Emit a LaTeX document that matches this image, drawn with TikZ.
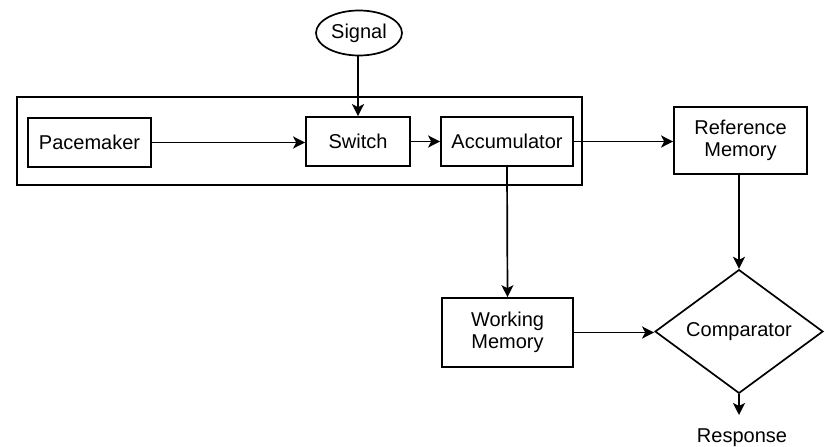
\documentclass[tikz,border=0pt]{standalone}
\usepackage{fontspec}
\setmainfont{Liberation Sans}
\usetikzlibrary{shapes.geometric,arrows.meta}
\begin{document}
\begin{tikzpicture}[x=1pt,y=-1pt,
  every node/.style={font=\fontsize{20}{22}\selectfont, text=black},
  blk/.style={draw, line width=1.7pt, align=center, inner sep=0pt},
  conn/.style={line width=1.7pt, -{Stealth[length=12pt,width=12pt,inset=3pt]}}]
\useasboundingbox (0,0) rectangle (825,447);
\node[blk, minimum width=565, minimum height=88] (outer) at (299.5,141) {};
\node[blk, ellipse, minimum width=86, minimum height=45] (sig) at (359,33) {Signal};
\node[blk, minimum width=123, minimum height=49] (pace) at (89.5,142.5) {Pacemaker};
\node[blk, minimum width=104, minimum height=49] (sw) at (358,141.5) {Switch};
\node[blk, minimum width=132, minimum height=49] (acc) at (507,141.5) {Accumulator};
\node[blk, minimum width=133, minimum height=67] (ref) at (740.5,140.5) {Reference\\Memory};
\node[blk, minimum width=131, minimum height=69] (wm) at (507.5,332.5) {Working\\Memory};
\node[blk, diamond, minimum width=168, minimum height=105] (comp) at (739,331.5) {Comparator};
\node (resp) at (742,438) {Response};
\coordinate (respend) at (739,415);
\draw[conn] (sig.south -| sw.north) -- (sw.north);
\draw[conn] (pace.east) -- (pace.east -| sw.west);
\draw[conn] (sw.east) -- (sw.east -| acc.west);
\draw[conn] (acc.east) -- (acc.east -| ref.west);
\draw[conn] (acc.south) -- (wm.north);
\draw[conn] (ref.south -| comp.north) -- (comp.north);
\draw[conn] (wm.east) -- (wm.east -| comp.west);
\draw[conn] (comp.south) -- (respend);
\end{tikzpicture}
\end{document}
